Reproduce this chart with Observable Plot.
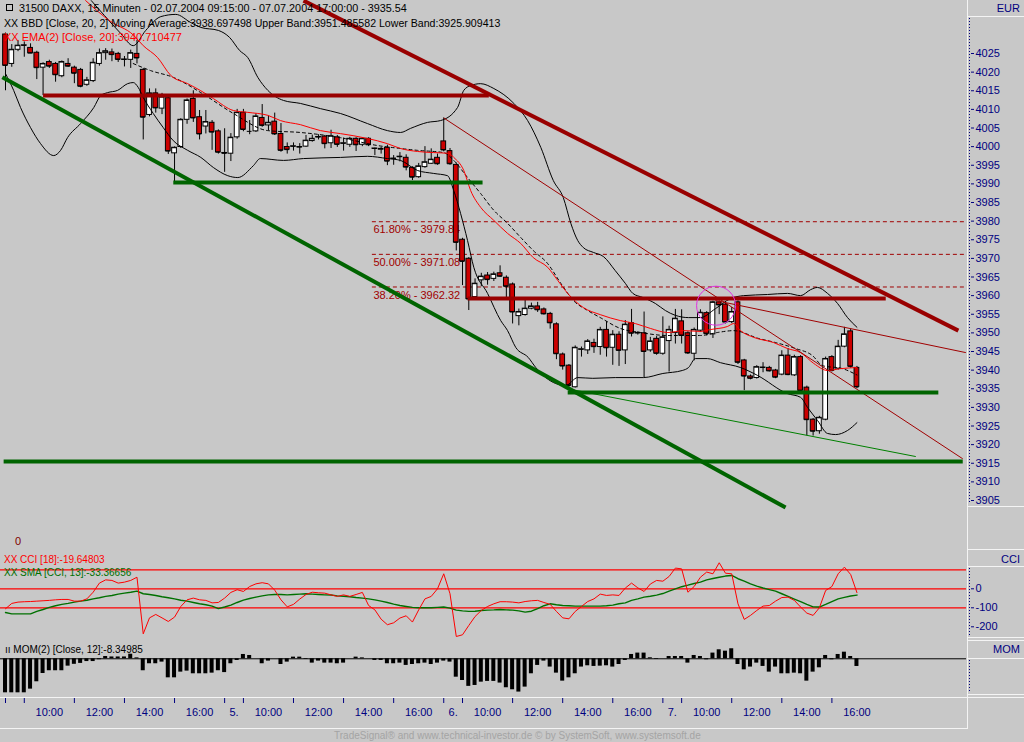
<!DOCTYPE html>
<html><head><meta charset="utf-8">
<script src="https://cdn.jsdelivr.net/npm/d3@7"></script>
<script src="https://cdn.jsdelivr.net/npm/@observablehq/plot@0.6"></script>
<style>
body{margin:0;background:#c8c8c8;}
#root{position:relative;width:1024px;height:742px;background:#c8c8c8;overflow:hidden;font-family:"Liberation Sans",Arial,sans-serif;}
.t{position:absolute;white-space:nowrap;font-size:11px;line-height:14px;}
#root svg{position:absolute;left:0;overflow:visible;}
</style></head><body><div id="root"></div>
<script>
// ---------- DATA ----------
const opens = [4030.1,4022.2,4026.0,4027.1,4026.5,4025.2,4021.2,4022.7,4022.2,4018.9,
4022.2,4021.2,4020.6,4016.6,4017.6,4022.2,4025.1,4025.3,4024.9,4023.3,
4023.3,4024.9,4020.6,4008.5,4014.3,4010.2,4013.0,3998.2,3999.9,4007.2,
4012.8,4007.9,4005.4,4006.4,4004.1,3998.3,3998.1,4002.5,4009.1,4004.1,
4004.1,4007.7,4005.7,4006.7,4003.4,3999.9,4000.0,3999.8,4000.0,4001.5,
4002.5,4002.7,4000.9,4002.5,4000.8,4000.5,4002.1,4000.5,4002.1,3999.4,
3999.2,3999.7,3996.7,3997.2,3997.0,3994.3,3991.8,3994.5,3995.4,3997.0,
4001.4,3998.8,3995.1,3975.0,3969.9,3959.6,3964.1,3965.4,3964.5,3966.0,
3964.8,3963.0,3954.5,3954.8,3956.5,3957.1,3956.3,3955.1,3952.3,3944.2,
3941.2,3935.4,3945.5,3945.3,3947.3,3946.2,3950.8,3946.0,3949.5,3945.3,
3952.6,3949.9,3949.9,3945.3,3948.4,3944.4,3947.8,3950.0,3953.1,3949.9,
3944.4,3950.6,3955.3,3949.6,3958.2,3957.6,3952.9,3958.2,3942.6,3938.3,
3937.9,3940.6,3940.6,3939.9,3938.8,3943.9,3938.6,3943.5,3935.3,3926.7,
3923.6,3926.7,3943.5,3940.4,3946.3,3950.4,3940.6];
const highs = [4030.5,4027.4,4028.5,4028.1,4027.6,4025.6,4022.5,4023.2,4022.6,4023.0,
4023.6,4021.6,4021.0,4018.6,4023.6,4026.2,4026.3,4026.2,4025.3,4024.2,
4025.9,4028.5,4021.0,4015.5,4015.5,4014.3,4013.4,3999.9,4007.5,4012.8,
4015.0,4009.7,4009.7,4007.0,4004.5,4004.8,4003.5,4010.0,4010.0,4007.0,
4008.8,4011.3,4008.2,4009.0,4006.2,4001.0,4001.0,4000.8,4003.0,4003.1,
4003.2,4003.0,4004.4,4003.0,4002.3,4002.5,4002.4,4002.4,4002.4,3999.6,
3999.8,4000.4,3997.6,3998.4,3997.8,3994.6,3995.5,4000.0,3999.4,3998.0,
4007.7,3999.5,3995.6,3975.4,3970.2,3964.5,3966.0,3966.2,3966.3,3968.0,
3965.3,3963.4,3956.4,3959.3,3958.0,3958.2,3956.7,3955.5,3952.7,3944.6,
3941.5,3946.5,3946.2,3948.2,3948.3,3951.5,3953.0,3950.6,3950.3,3953.3,
3956.3,3950.3,3955.6,3948.8,3949.0,3954.3,3951.8,3956.3,3956.2,3950.3,
3951.3,3956.2,3955.7,3958.5,3958.6,3958.0,3956.8,3958.6,3942.9,3938.7,
3941.2,3942.0,3941.0,3940.2,3945.2,3945.8,3944.0,3943.9,3935.7,3927.0,
3927.6,3943.5,3943.9,3948.0,3951.5,3951.0,3941.0];
const lows = [4015.0,4021.3,4025.5,4024.0,4025.0,4018.0,4013.7,4021.0,4017.3,4018.5,
4021.3,4016.9,4015.8,4016.2,4017.2,4021.6,4023.2,4022.8,4022.6,4021.4,
4021.0,4022.2,4001.8,4008.0,4009.0,4008.6,3997.9,3990.5,3999.5,4006.0,
4006.5,4001.8,4003.4,3999.0,3998.0,3993.1,3996.0,4002.0,4004.0,4003.2,
4003.8,4005.2,4004.2,4003.0,3998.5,3998.0,3998.8,3998.0,3999.8,4001.2,
4001.8,3999.4,3999.5,3999.8,3998.8,3999.8,3998.7,4000.0,4000.0,3997.6,
3998.0,3994.9,3995.0,3995.9,3993.5,3990.9,3991.5,3994.2,3995.2,3995.0,
3998.6,3995.0,3972.0,3962.7,3956.0,3959.2,3962.4,3962.8,3963.8,3964.9,
3958.8,3952.4,3951.9,3954.5,3956.2,3955.5,3954.8,3951.0,3942.8,3940.0,
3935.4,3935.2,3943.5,3944.2,3944.5,3944.0,3943.5,3941.3,3941.0,3941.5,
3948.9,3949.4,3937.9,3944.8,3944.0,3944.0,3939.5,3947.0,3947.0,3944.2,
3942.5,3950.2,3949.2,3948.5,3954.9,3952.4,3952.5,3941.5,3934.5,3937.4,
3937.6,3939.3,3939.5,3937.7,3938.5,3938.5,3938.3,3934.2,3922.4,3922.3,
3922.8,3926.4,3939.5,3940.0,3946.0,3940.5,3935.0];
const closes = [4021.8,4026.0,4027.1,4027.2,4025.1,4021.2,4022.2,4021.6,4019.3,4022.7,
4021.6,4019.7,4016.2,4017.8,4022.5,4025.1,4025.6,4024.7,4023.4,4023.4,
4025.1,4023.8,4007.9,4014.3,4010.4,4013.3,3998.8,3999.7,4007.2,4012.4,
4007.7,4003.4,4006.6,4003.9,3998.5,3998.2,4002.4,4009.1,4004.6,4004.1,
4008.1,4005.7,4006.4,4003.4,3999.0,3999.2,4000.1,3999.9,4001.6,4002.1,
4002.6,4000.8,4002.8,4000.6,4000.9,4002.1,4000.5,4002.1,4000.5,3999.5,
3999.4,3996.1,3996.8,3997.3,3994.5,3991.8,3994.7,3995.8,3996.5,3995.4,
3999.1,3995.4,3974.3,3969.2,3959.1,3963.2,3965.1,3964.3,3965.7,3965.2,
3962.5,3955.6,3955.6,3956.5,3957.1,3956.2,3955.1,3952.7,3944.4,3941.1,
3935.9,3946.0,3945.6,3947.7,3946.3,3950.8,3946.0,3949.5,3945.3,3952.2,
3949.9,3950.0,3945.0,3947.7,3944.5,3948.8,3950.8,3953.8,3949.3,3944.6,
3950.8,3955.4,3949.8,3958.2,3957.5,3952.9,3955.6,3942.1,3938.4,3937.8,
3940.8,3940.7,3939.8,3938.1,3943.9,3938.8,3943.5,3934.5,3926.7,3923.6,
3927.2,3943.0,3939.9,3946.3,3949.6,3941.0,3935.5];

// Bollinger bands & EMA as [bar, price]
const upperBand = [[13.7,4039.2],[15.8,4035.2],[18.4,4030.4],[20.4,4027.1],[22.4,4031.2],[24.8,4034.9],[27.2,4035.5],[29.6,4033.3],[31.2,4032.0],[34.0,4031.2],[35.8,4029.3],[37.4,4025.8],[38.7,4023.9],[40.3,4018.6],[41.9,4015.1],[44.4,4012.4],[47.1,4011.6],[50.3,4010.2],[53.5,4008.9],[57.8,4006.2],[61.0,4004.3],[63.1,4003.8],[64.7,4004.9],[67.4,4006.5],[69.5,4007.0],[72.2,4010.5],[73.2,4015.1],[74.3,4016.4],[75.9,4016.9],[78.0,4015.6],[81.2,4011.6],[83.4,4007.0],[85.5,3999.8],[87.5,3990.9],[89.1,3986.3],[90.3,3979.4],[91.4,3974.8],[92.3,3972.9],[93.9,3971.6],[95.5,3970.5],[97.4,3966.7],[99.0,3963.3],[100.2,3960.6],[101.8,3959.5],[103.8,3957.9],[105.4,3956.0],[107.0,3954.7],[109.1,3954.1],[111.0,3954.1],[113.4,3956.5],[115.8,3959.2],[117.9,3960.0],[121.7,3960.3],[124.9,3960.6],[127.0,3960.0],[128.6,3961.6],[129.7,3962.2],[131.3,3960.6],[132.9,3957.9],[134.5,3954.1],[136,3951.5]];
const lowerBand = [[0,4019.6],[1.3,4015.1],[2.4,4010.5],[4.0,4005.1],[5.6,4000.8],[7.7,3997.6],[8.8,3999.0],[9.9,4002.4],[12.0,4006.2],[14.1,4010.5],[15.2,4013.7],[16.3,4014.5],[17.9,4015.1],[19.5,4016.9],[20.4,4017.2],[21.2,4015.9],[22.0,4013.2],[23.6,4008.9],[25.2,4005.1],[26.8,4001.6],[29.1,3999.0],[31.2,3997.1],[33.2,3994.4],[35.5,3992.2],[37.1,3991.7],[39.6,3994.9],[40.7,3996.8],[44.4,3996.3],[47.6,3996.8],[53.5,3997.1],[57.8,3997.4],[61.0,3996.8],[63.1,3996.3],[65.8,3993.6],[68.4,3992.8],[70.6,3992.2],[71.6,3988.2],[72.7,3982.0],[73.8,3974.8],[74.8,3967.6],[77.0,3960.6],[79.1,3953.3],[80.2,3950.6],[81.5,3946.1],[83.5,3943.4],[84.7,3940.7],[86.3,3938.0],[87.9,3936.4],[89.5,3935.9],[91.4,3938.0],[93.8,3937.8],[97.4,3938.0],[101.9,3938.0],[105.0,3939.1],[108.1,3939.9],[109.1,3940.7],[110.2,3943.1],[112.1,3943.1],[114.2,3942.0],[117.4,3940.7],[120.1,3938.6],[124.9,3933.7],[127.0,3932.7],[128.1,3930.0],[129.7,3926.5],[131.3,3923.0],[132.6,3922.7],[134.5,3923.8],[136,3925.9]];
const midBand = [[20.4,4022.3],[23.2,4020.4],[26.8,4018.6],[31.2,4014.5],[36.4,4008.9],[41.9,4004.3],[47.1,4003.8],[53.5,4002.4],[59.4,4000.3],[63.1,3999.5],[65.8,3999.0],[70.0,3998.4],[71.6,3996.3],[73.8,3991.7],[75.9,3987.4],[78.0,3982.9],[80.2,3979.4],[82.3,3975.6],[84.3,3972.1],[86.6,3968.6],[88.7,3963.3],[90.7,3958.7],[93.0,3956.0],[95.0,3954.1],[98.2,3951.2],[101.4,3950.1],[105.8,3949.3],[111.0,3949.3],[113.7,3950.1],[116.3,3950.6],[120.3,3948.5],[123.0,3947.4],[126.2,3945.8],[128.9,3943.9],[130.5,3941.2],[133.7,3940.4],[136,3938.7]];
const ema = [[12.8,4039.2],[16.8,4033.6],[20.4,4030.0],[22.0,4027.1],[24.3,4023.9],[26.4,4019.1],[29.1,4016.9],[31.1,4015.1],[33.2,4012.9],[36.4,4009.7],[38.7,4009.2],[41.9,4008.4],[43.9,4007.0],[47.1,4005.9],[50.3,4004.3],[53.5,4003.5],[57.8,4002.2],[61.0,4000.8],[63.1,3999.5],[65.8,3998.7],[68.4,3998.4],[70.8,3998.2],[71.6,3997.1],[73.2,3993.6],[74.3,3988.2],[75.9,3983.7],[78.0,3980.2],[80.2,3976.7],[82.3,3974.0],[84.3,3970.2],[86.6,3967.6],[88.2,3964.1],[89.8,3960.6],[92.3,3956.8],[95.0,3954.9],[98.2,3953.3],[100.6,3952.5],[103.0,3951.2],[105.8,3950.1],[108.3,3950.6],[111.0,3950.4],[112.6,3950.9],[115.3,3951.7],[116.3,3952.5],[117.4,3950.6],[119.5,3948.8],[122.7,3947.4],[124.9,3945.8],[127.0,3944.7],[129.1,3941.8],[131.3,3939.9],[133.4,3940.4],[136,3940.7]];

// drawn trend lines [bar1, price1, bar2, price2]
const thickRedLines = [[6,4013.7,77.2,4013.7],[73.8,3959.2,140.6,3959.2],[47.6,4039.2,152.2,3950.6]];
const thickGreenLines = [[-0.5,4018.6,124.6,3903.1],[26.8,3990.4,76.2,3990.4],[89.8,3934.0,149,3934.0],[-0.3,3915.5,152.9,3915.5]];
const thinRedLines = [[70,4007.7,152.9,3916.2],[113.4,3958.7,153.4,3944.7]];
const thinGreenLines = [[89.5,3935.1,145.4,3916.8]];
const markCircle = [[113.5,3957.3]];
const fibLevels = [3979.84,3971.08,3962.32];
const fibLabels = ["61.80% - 3979.84","50.00% - 3971.08","38.20% - 3962.32"];
const fibStartBar = 58.6;
const priceTicks = [3905,3910,3915,3920,3925,3930,3935,3940,3945,3950,3955,3960,3965,3970,3975,3980,3985,3990,3995,4000,4005,4010,4015,4020,4025];

// CCI(18) and its SMA(13)
const cci = [-105,-77,-70,-68,-67,-65,-63,-61,-58,-56,
-56,-65,-65,-53,-18,30,47,44,30,35,
44,61,-237,-153,-135,-153,-172,-149,-93,-58,
-49,-58,-61,-74,-72,-49,-19,-5,-14,12,
26,32,26,-7,-58,-95,-82,-54,-30,-18,
-21,-23,-32,-40,-32,-40,-30,-19,-88,-111,
-160,-189,-179,-154,-142,-175,-111,-53,-40,0,
79,-26,-251,-242,-193,-146,-114,-93,-79,-68,
-68,-70,-74,-67,-63,-61,-72,-82,-119,-153,
-158,-119,-93,-67,-53,-28,-35,-32,-35,4,
30,5,-14,25,44,40,65,109,105,-18,
12,61,88,79,137,82,79,-79,-161,-140,
-114,-91,-88,-65,-46,-44,-61,-96,-128,-140,
-100,-9,12,79,114,75,-20];
const cciSma = [-125,-132,-132,-132,-132,-119,-109,-98,-89,-82,
-77,-70,-65,-60,-53,-47,-40,-35,-28,-23,
-18,-12,-26,-30,-35,-42,-47,-53,-60,-65,
-72,-79,-84,-91,-104,-96,-86,-72,-60,-51,
-44,-37,-32,-30,-30,-32,-30,-28,-26,-28,
-30,-32,-33,-37,-39,-42,-46,-49,-53,-58,
-65,-72,-81,-88,-93,-98,-100,-100,-100,-98,
-96,-102,-112,-116,-119,-118,-114,-112,-111,-109,
-111,-112,-116,-123,-118,-104,-89,-79,-84,-88,
-89,-91,-91,-91,-91,-91,-89,-86,-79,-74,
-61,-53,-44,-39,-33,-25,-12,0,11,19,
28,35,47,54,61,67,70,53,40,26,
14,4,-4,-12,-26,-40,-54,-68,-82,-95,
-96,-82,-67,-53,-45,-38,-33];
const cciLevels = [100,0,-100];
const cciTicks = [0,-100,-200];

// Momentum(12)
const mom = [-37,-37,-37,-37,-33,-25,-16,-13,-13,-13,
-8,-6,-5,-3,-3,-1,2.5,2,2,2,
5,1,-13,-5.4,-5.4,-3.6,-20.7,-20.7,-14.5,-13.4,
-16.3,-16.3,-16.3,-15.6,-13,-15,-5.4,-1.8,4.7,3.6,
0,-5.4,-2.5,0,-6.2,-3.6,1.8,1.8,-0.7,-4.7,
-2.5,-4.7,-4.7,-5.4,-4.7,0,1.8,1,0,-1.8,
-1.8,-5.4,-5.4,-4.7,-7.2,-6.2,-5.4,-4.7,-6.2,-4.7,
-2.5,-3.6,-20,-23.6,-30,-29,-25.4,-24.6,-24.6,-26.4,
-31.5,-33.7,-36.2,-30.8,-16.3,-7.2,-2.5,-9,-15.6,-24.3,
-20.7,-16.3,-9,-7.6,-8.3,-8,-7.6,-9,-6.2,-1.8,
4.7,6.2,6.2,1.1,-0.7,0,2.5,2.5,2.5,-4.7,
3.6,2.5,-1.1,6.2,9.8,8.3,10.9,-6.2,-12,-9,
-4.7,-8.3,-14.5,-9,-16.3,-16.3,-15.6,-16.3,-24.3,-14.5,
-9.8,3.6,-1.1,4.7,7.2,2.5,-8.35];

// time axis: [bar index, label]
const timeTicks = [[0,""],[3,"10:00"],[11,"12:00"],[19,"14:00"],[27,"16:00"],
[35,"5."],[38,"10:00"],[46,"12:00"],[54,"14:00"],[62,"16:00"],
[70,"6."],[73,"10:00"],[81,"12:00"],[89,"14:00"],[97,"16:00"],
[105,"7."],[108,"10:00"],[116,"12:00"],[124,"14:00"],[132,"16:00"]];

// ---------- LAYOUT ----------
const FONT = '"Liberation Sans", Arial, sans-serif';
const NAVY = "#000080";
const XDOM = [-0.8, 153.5];
const W = 1024, MR = 58;
const root = document.getElementById("root");
const bars = opens.map((o, i) => ({i, o, h: highs[i], l: lows[i], c: closes[i]}));
const baseStyle = {background: "transparent", color: NAVY, fontFamily: FONT, fontSize: "11px", overflow: "visible"};
const seg = (data, stroke, w, extra = {}) => Plot.link(data, {x1: d => d[0], y1: d => d[1], x2: d => d[2], y2: d => d[3], stroke, strokeWidth: w, ...extra});
const path = (data, stroke, w, extra = {}) => Plot.line(data, {x: d => d[0], y: d => d[1], stroke, strokeWidth: w, curve: "monotone-x", ...extra});

function place(svg, top) { svg.style.top = top + "px"; root.appendChild(svg); }

// main price panel
const main = Plot.plot({
  width: W, height: 512, marginLeft: 0, marginRight: MR, marginTop: 0, marginBottom: 0,
  x: {domain: XDOM, axis: null},
  y: {domain: [3901.78, 4039.23], axis: null},
  style: baseStyle,
  marks: [
    Plot.ruleY(fibLevels, {y: d => d, x1: () => fibStartBar, x2: () => XDOM[1], stroke: "#a00000", strokeDasharray: "4,3"}),
    Plot.text(fibLevels, {x: () => fibStartBar, y: d => d, text: (d, i) => fibLabels[i], fill: "#a00000", textAnchor: "start", dx: 1, dy: 8, fontSize: 11}),
    Plot.ruleX(bars, {x: "i", y1: "l", y2: "h", stroke: "black", strokeWidth: 1}),
    Plot.rect(bars, {x1: d => d.i - 0.38, x2: d => d.i + 0.38, y1: "o", y2: "c", fill: d => d.c >= d.o ? "#ffffff" : "#cc0000", stroke: "black", strokeWidth: 1}),
    Plot.ruleY(bars, {y: "c", x1: d => d.i - 0.38, x2: d => d.i + 0.38, stroke: "black"}),
    path(upperBand, "black", 1),
    path(lowerBand, "black", 1),
    path(midBand, "black", 1, {strokeDasharray: "3,3"}),
    path(ema, "#ff0000", 1),
    seg(thinRedLines, "#a00000", 1),
    seg(thinGreenLines, "#008000", 1),
    seg(thickGreenLines, "#006400", 4),
    seg(thickRedLines, "#990000", 4),
    Plot.dot(markCircle, {x: d => d[0], y: d => d[1], r: 19.5, stroke: "#e030e0", strokeWidth: 1, fill: "none"}),
    Plot.axisY({anchor: "right", ticks: priceTicks, tickSize: 3, tickPadding: 2, dx: 4, tickFormat: d => String(d), color: NAVY, fontSize: 11})
  ]
});
place(main, 0);

// CCI panel
const cciPlot = Plot.plot({
  width: W, height: 88, marginLeft: 0, marginRight: MR, marginTop: 0, marginBottom: 0,
  x: {domain: XDOM, axis: null},
  y: {domain: [-256.3, 206.8], axis: null},
  style: baseStyle,
  marks: [
    Plot.ruleY(cciLevels, {stroke: "#ff0000", strokeWidth: 1.2}),
    Plot.line(cciSma, {x: (d, i) => i, y: d => d, stroke: "#007000", strokeWidth: 1.4}),
    Plot.line(cci, {x: (d, i) => i, y: d => d, stroke: "#ff0000", strokeWidth: 1}),
    Plot.axisY({anchor: "right", ticks: cciTicks, tickSize: 3, tickPadding: 2, dx: 4, tickFormat: d => String(d), color: NAVY, fontSize: 11})
  ]
});
place(cciPlot, 549);

// Momentum panel
const momPlot = Plot.plot({
  width: W, height: 57, marginLeft: 0, marginRight: MR, marginTop: 0, marginBottom: 0,
  x: {domain: XDOM, axis: null},
  y: {domain: [-42.1, 19.9], axis: null},
  style: baseStyle,
  marks: [
    Plot.rect(mom, {x1: (d, i) => i - 0.32, x2: (d, i) => i + 0.32, y1: () => 0, y2: d => d, fill: "black"}),
    Plot.ruleY([0], {stroke: "black", strokeWidth: 1})
  ]
});
place(momPlot, 640);

// time axis
const tickRows = timeTicks.map((t, k) => ({bar: t[0], label: t[1], mid: (t[0] + (k + 1 < timeTicks.length ? timeTicks[k + 1][0] : t[0] + 8)) / 2}));
const axisPlot = Plot.plot({
  width: W, height: 31, marginLeft: 0, marginRight: MR, marginTop: 0, marginBottom: 0,
  x: {domain: XDOM, axis: null},
  y: {domain: [0, 31], range: [0, 31], axis: null},
  style: baseStyle,
  marks: [
    Plot.ruleX(tickRows, {x: "bar", y1: () => 1, y2: () => 6, stroke: NAVY}),
    Plot.text(tickRows, {x: "mid", y: () => 15, text: "label", fill: NAVY, fontSize: 11})
  ]
});
place(axisPlot, 697);

// frame lines of the panels (decoration)
const deco = d3.create("svg").attr("width", 1024).attr("height", 742).style("top", "0px").style("pointer-events", "none");
const L = (x1, y1, x2, y2, c, dash) => deco.append("line").attr("x1", x1).attr("y1", y1).attr("x2", x2).attr("y2", y2).attr("stroke", c).attr("stroke-width", 1).attr("stroke-dasharray", dash || null);
L(967.5, 0, 967.5, 728, "#f4f4f4");
[16.5, 506.5, 549.5, 566.5, 637.5, 640.5, 658.5, 694.5].forEach(y => L(967, y, 1024, y, "#f4f4f4"));
L(0, 697.5, 1024, 697.5, "#f4f4f4");
L(0, 728.5, 968, 728.5, "#f4f4f4");
L(969.5, 18, 969.5, 504, NAVY, "1,2");
L(969.5, 568, 969.5, 636, NAVY, "1,2");
L(969.5, 660, 969.5, 692, NAVY, "1,2");
root.appendChild(deco.node());

// texts
function txt(s, x, y, color, extra = "") {
  const d = document.createElement("div");
  d.className = "t"; d.textContent = s;
  d.style.cssText += `left:${x}px;top:${y}px;color:${color};${extra}`;
  root.appendChild(d);
}
const icon = document.createElement("div");
icon.style.cssText = "position:absolute;left:6px;top:4px;width:5px;height:5px;border:1px solid #000;";
root.appendChild(icon);
txt("31500  DAXX, 15 Minuten - 02.07.2004 09:15:00 - 07.07.2004 17:00:00 - 3935.54", 19, 1, "#000", "font-size:10.8px;");
txt("XX BBD [Close, 20, 2] Moving Average:3938.697498 Upper Band:3951.485582 Lower Band:3925.909413", 4, 16, "#000", "font-size:10.6px;");
txt("XX EMA(2) [Close, 20]:3940.710477", 4, 30, "#ff0000");
txt("EUR", 0, 1, NAVY, "left:auto;right:4px;");
txt("0", 15, 534, "#800000");
txt("XX CCI [18]:-19.64803", 4, 553, "#ff0000", "font-size:10px;");
txt("XX SMA [CCI, 13]:-33.36656", 4, 566, "#007000", "font-size:10px;");
txt("CCI", 0, 552, NAVY, "left:auto;right:4px;");
txt("ıı MOM(2) [Close, 12]:-8.34985", 5, 643, "#000", "font-size:10px;");
txt("MOM", 0, 642, NAVY, "left:auto;right:4px;");
txt("TradeSignal® and www.technical-investor.de © by SystemSoft, www.systemsoft.de", 334, 729, "#a4a4a4", "font-size:10px;");
</script></body></html>
